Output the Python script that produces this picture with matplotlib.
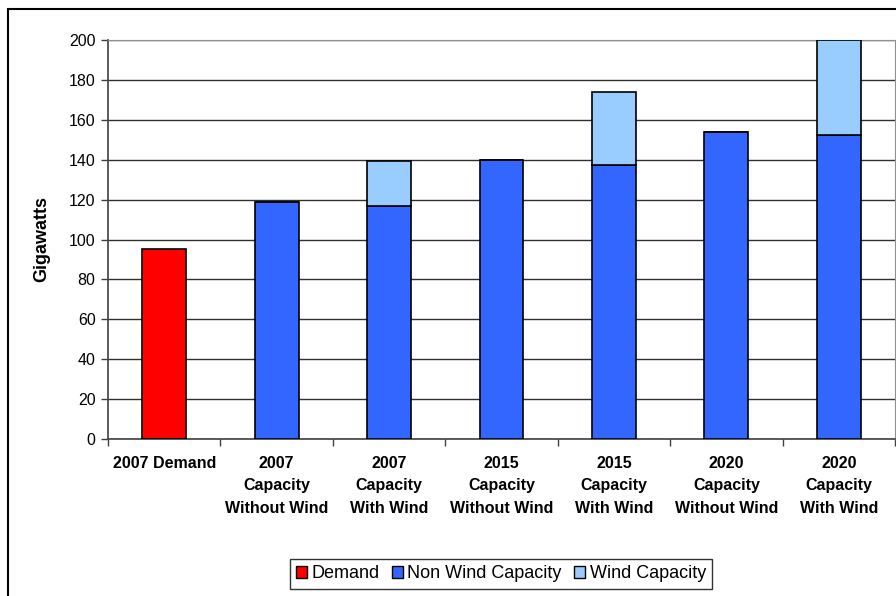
import matplotlib
matplotlib.use("Agg")
import matplotlib.pyplot as plt
import numpy as np
from matplotlib.patches import Rectangle, Patch

plt.rcParams["font.family"] = ["Liberation Sans", "DejaVu Sans"]

categories = [
    "2007 Demand",
    "2007\nCapacity\nWithout Wind",
    "2007\nCapacity\nWith Wind",
    "2015\nCapacity\nWithout Wind",
    "2015\nCapacity\nWith Wind",
    "2020\nCapacity\nWithout Wind",
    "2020\nCapacity\nWith Wind",
]
demand = [95, 0, 0, 0, 0, 0, 0]
non_wind = [0, 119, 117, 140, 137.5, 154, 152.5]
wind = [0, 0, 22.5, 0, 36.5, 0, 47.5]
y_ticks = list(range(0, 201, 20))

c_demand = "#FF0000"
c_nonwind = "#3366FF"
c_wind = "#99CCFF"

fig = plt.figure(figsize=(8.96, 5.96), dpi=100)
ax = fig.add_axes([108 / 896, 1 - 439 / 596, 787 / 896, 399 / 596])

x = np.arange(len(categories))
w = 0.39
bar_kw = dict(width=w, edgecolor="#000000", linewidth=1.2, zorder=3)
ax.bar(x, demand, color=c_demand, **bar_kw)
ax.bar(x, non_wind, color=c_nonwind, **bar_kw)
ax.bar(x, wind, bottom=non_wind, color=c_wind, **bar_kw)

ax.set_xlim(-0.5, len(categories) - 0.5)
ax.set_ylim(0, 200)
ax.set_yticks(y_ticks)
ax.set_yticklabels([str(v) for v in y_ticks], fontsize=11.5)
ax.yaxis.grid(True, color="#303030", linewidth=1.0, zorder=0)
ax.set_axisbelow(True)

ax.set_xticks(x)
ax.set_xticklabels(categories, fontsize=11.5, fontweight="bold", linespacing=1.65)
ax.set_xticks(np.arange(len(categories) + 1) - 0.5, minor=True)
ax.tick_params(axis="x", which="major", length=0, pad=12)
ax.tick_params(axis="x", which="minor", length=5, width=1, color="#404040")
ax.tick_params(axis="y", length=5, width=1, color="#404040", pad=4)

ax.set_ylabel("Gigawatts", fontsize=13, fontweight="bold", labelpad=13)

for side in ("top", "right"):
    ax.spines[side].set_color("#909090")
for side in ("left", "bottom"):
    ax.spines[side].set_color("#404040")
    ax.spines[side].set_linewidth(1.2)

# outer chart frame
fig.patches.append(Rectangle((8 / 896, -0.05), 1.2, 1 - 9 / 596 + 0.05,
                             transform=fig.transFigure, fill=False,
                             edgecolor="#000000", linewidth=1.5))

handles = [
    Patch(facecolor=c_demand, edgecolor="#000000", linewidth=1),
    Patch(facecolor=c_nonwind, edgecolor="#000000", linewidth=1),
    Patch(facecolor=c_wind, edgecolor="#000000", linewidth=1),
]
leg = fig.legend(handles, ["Demand", "Non Wind Capacity", "Wind Capacity"],
                 loc="center", bbox_to_anchor=(501 / 896, 1 - 574 / 596),
                 ncol=3, fontsize=13, frameon=True, fancybox=False,
                 edgecolor="#000000", handlelength=0.6, handleheight=0.6,
                 handletextpad=0.25, columnspacing=0.7, borderpad=0.35)
leg.get_frame().set_linewidth(1.0)

fig.savefig("out.png", dpi=100)
